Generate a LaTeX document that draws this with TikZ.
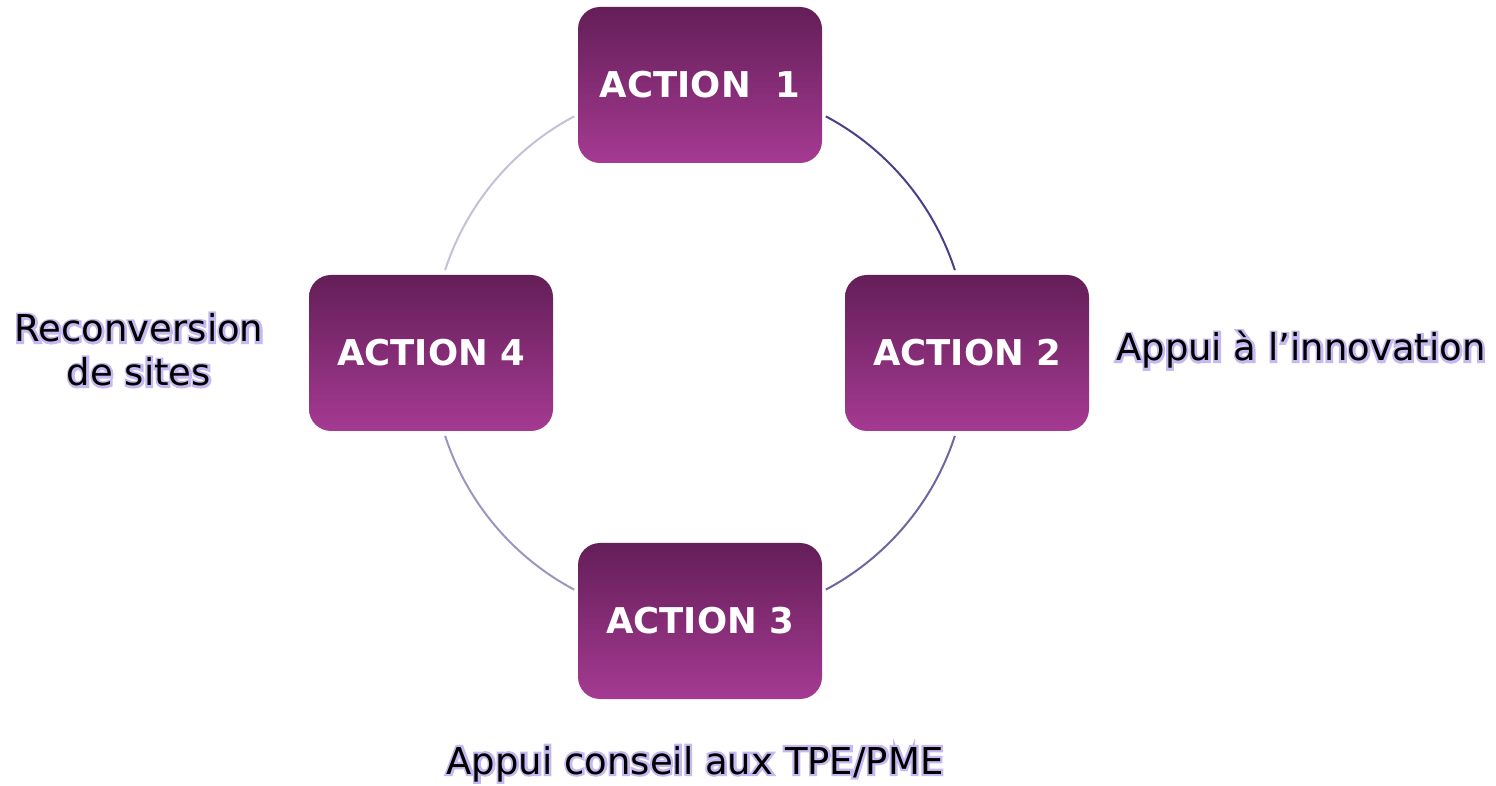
\documentclass[tikz,border=0pt]{standalone}
\usepackage{fontspec}
\setmainfont{DejaVu Sans}
\newfontfamily\halofont[FakeBold=12]{DejaVu Sans}
\usetikzlibrary{calc}
\definecolor{boxtop}{HTML}{641E58}
\definecolor{boxbot}{HTML}{A53A92}
\definecolor{arcA}{HTML}{4B3F8C}
\definecolor{arcB}{HTML}{6E66A0}
\definecolor{arcC}{HTML}{9C96BE}
\definecolor{arcD}{HTML}{C4C0D8}
\definecolor{halo}{HTML}{C6B9F2}
\tikzset{
  actionbox/.style={rounded corners=22pt, minimum width=244pt, minimum height=156pt,
    top color=boxtop, bottom color=boxbot, draw=none, text=white, inner sep=0pt,
    font=\fontsize{35.5}{42}\selectfont\bfseries},
  ring/.style={line width=2pt},
  caption/.style={font=\fontsize{37}{44}\selectfont, text=black, inner sep=0pt, align=center},
  glowcopy/.style={caption, font=\fontsize{37}{44}\selectfont\halofont, text=halo}
}
\begin{document}
\begin{tikzpicture}[x=1pt,y=1pt]
\useasboundingbox (0,0) rectangle (1496,785);
\coordinate (ctr) at (700,432);

% four action boxes placed on the ring
\node[actionbox] (a1) at (700,700) {ACTION\ \ 1};
\node[actionbox] (a2) at (967,432) {ACTION 2};
\node[actionbox] (a3) at (700,164) {ACTION 3};
\node[actionbox] (a4) at (431,432) {ACTION 4};

% ring segments between the boxes
\def\R{268}
\coordinate (s12) at ($(ctr)+(62:\R)$);
\coordinate (s23) at ($(ctr)+(-18:\R)$);
\coordinate (s34) at ($(ctr)+(-118:\R)$);
\coordinate (s41) at ($(ctr)+(162:\R)$);
\draw[ring, arcA] (s12) arc[start angle=62, end angle=18, radius=\R];
\draw[ring, arcB] (s23) arc[start angle=-18, end angle=-62, radius=\R];
\draw[ring, arcC] (s34) arc[start angle=-118, end angle=-162, radius=\R];
\draw[ring, arcD] (s41) arc[start angle=162, end angle=118, radius=\R];

% captions, each over a stroked lavender halo
\node[glowcopy, anchor=base west] at (1116,424) {Appui à l’innovation};
\node[glowcopy, anchor=base] at (695,11) {Appui conseil aux TPE/PME};
\node[glowcopy, anchor=center] at (139,435) {Reconversion\\de sites};
\node[caption, anchor=base west] (l2) at (1116,424) {Appui à l’innovation};
\node[caption, anchor=base] (l3) at (695,11) {Appui conseil aux TPE/PME};
\node[caption, anchor=center] (l4) at (139,435) {Reconversion\\de sites};
\end{tikzpicture}
\end{document}
